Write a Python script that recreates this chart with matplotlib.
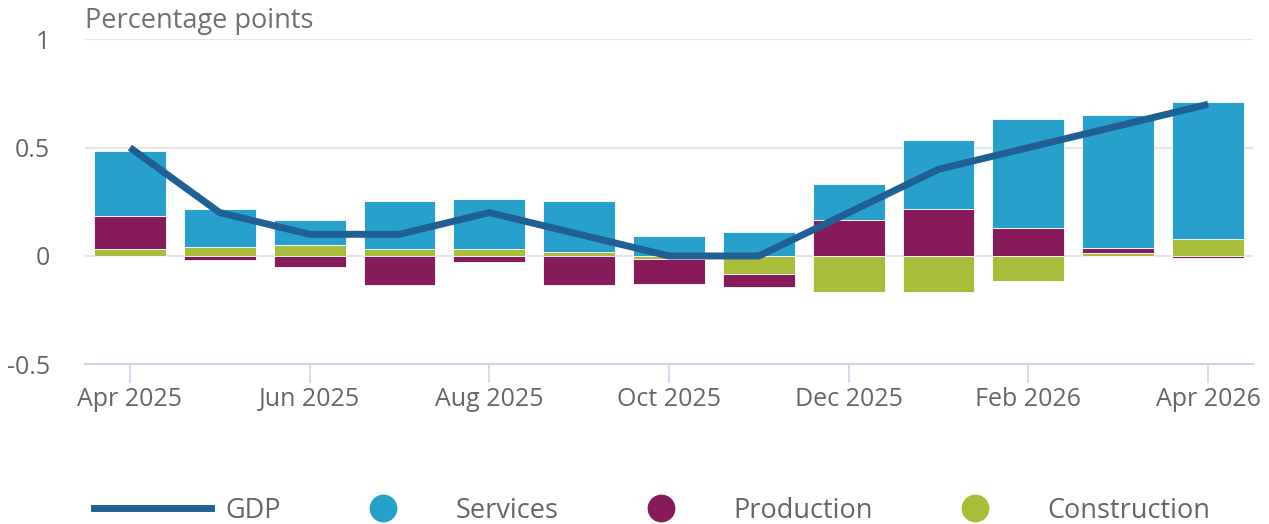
#!/usr/bin/env python3

import matplotlib
matplotlib.use("Agg")
import matplotlib.pyplot as plt
import numpy as np
from matplotlib.lines import Line2D

months = ["Apr 2025", "May 2025", "Jun 2025", "Jul 2025", "Aug 2025", "Sep 2025",
          "Oct 2025", "Nov 2025", "Dec 2025", "Jan 2026", "Feb 2026", "Mar 2026", "Apr 2026"]
services = [0.30, 0.175, 0.115, 0.225, 0.235, 0.235, 0.09, 0.11, 0.165, 0.32, 0.50, 0.615, 0.63]
production = [0.155, -0.02, -0.05, -0.135, -0.03, -0.135, -0.115, -0.06, 0.165, 0.215, 0.13, 0.02, -0.01]
construction = [0.03, 0.04, 0.05, 0.03, 0.03, 0.02, -0.015, -0.085, -0.165, -0.165, -0.115, 0.015, 0.08]
gdp = [0.5, 0.2, 0.1, 0.1, 0.2, 0.1, 0.0, 0.0, 0.2, 0.4, 0.5, 0.6, 0.7]

c_gdp = "#206095"
c_serv = "#27a0cc"
c_prod = "#871a5b"
c_cons = "#a8bd3a"

plt.rcParams['font.family'] = ['Open Sans', 'DejaVu Sans']

fig = plt.figure(figsize=(12.69, 5.24), dpi=100)
ax = fig.add_axes([85/1269, 1 - 364.3/524, (1253 - 85)/1269, (364.3 - 39.3)/524])

x = np.arange(len(months))
pos_base = np.zeros(len(months))
neg_base = np.zeros(len(months))
# stack order from zero outwards: construction, production, services
for vals, col in [(construction, c_cons), (production, c_prod), (services, c_serv)]:
    v = np.array(vals)
    base = np.where(v >= 0, pos_base, neg_base)
    ax.bar(x, v, width=0.8, bottom=base, color=col, edgecolor="#ffffff", linewidth=0.6, zorder=2)
    pos_base = pos_base + np.where(v >= 0, v, 0)
    neg_base = neg_base + np.where(v < 0, v, 0)

ax.plot(x, gdp, color=c_gdp, linewidth=5, zorder=3, solid_capstyle='butt')

ax.set_xlim(-0.5, 12.5)
ax.set_ylim(-0.5, 1)
ax.set_yticks([-0.5, 0, 0.5, 1])
ax.set_yticklabels(["-0.5", "0", "0.5", "1"])
ax.set_xticks(x[::2])
ax.set_xticklabels(months[::2])

ax.grid(axis='y', color="#e6e6e6", linewidth=1.5, zorder=0)
ax.set_axisbelow(True)
for s in ['top', 'right', 'left']:
    ax.spines[s].set_visible(False)
ax.spines['bottom'].set_color("#ccd6eb")
ax.spines['bottom'].set_linewidth(1.5)
ax.tick_params(axis='x', length=14, width=1.2, color="#ccd6eb", labelsize=18,
               labelcolor="#666666", pad=2)
ax.tick_params(axis='y', length=0, labelsize=18, labelcolor="#666666", pad=25)

fig.text(85/1269, 1 - 28/524, "Percentage points", fontsize=19.5, color="#707070",
         ha='left', va='baseline')

handles = [
    Line2D([0], [0], color=c_gdp, linewidth=5),
    Line2D([0], [0], linestyle='none', marker='o', markersize=19, color=c_serv),
    Line2D([0], [0], linestyle='none', marker='o', markersize=19, color=c_prod),
    Line2D([0], [0], linestyle='none', marker='o', markersize=19, color=c_cons),
]
leg = fig.legend(handles, ["GDP", "Services", "Production", "Construction"],
                 loc='center', bbox_to_anchor=(0.514, 0.025), ncol=4, frameon=False,
                 fontsize=19.5, handlelength=4.32, handletextpad=0.5, columnspacing=1.63,
                 labelcolor="#666666", borderaxespad=0, borderpad=0)

fig.savefig("out.png", dpi=100)
